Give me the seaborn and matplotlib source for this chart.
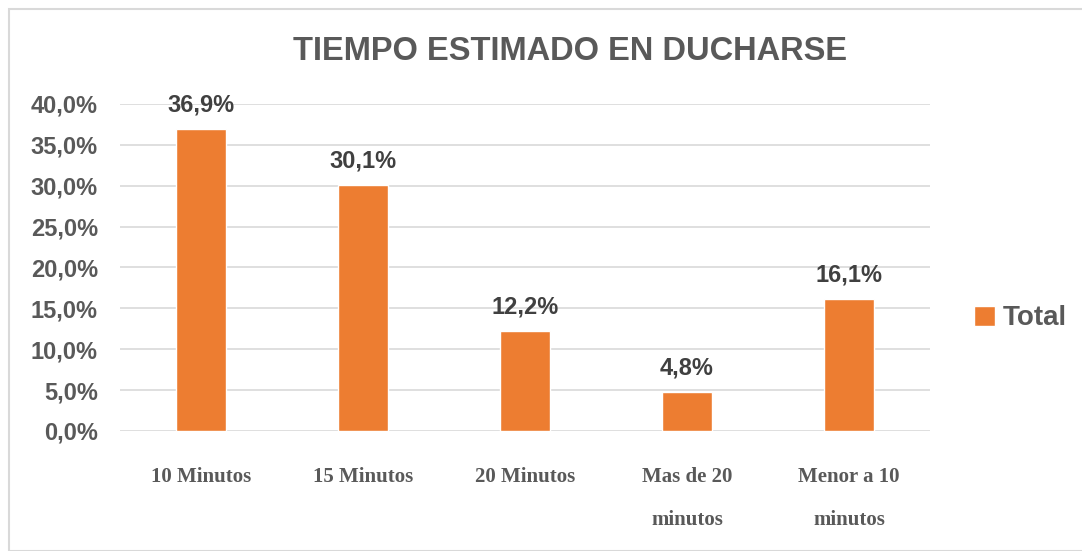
import pandas as pd
import seaborn as sns
import matplotlib.pyplot as plt
from matplotlib.patches import Rectangle
from matplotlib.ticker import FuncFormatter

# Datos del grafico
categorias = ['10 Minutos', '15 Minutos', '20 Minutos', 'Mas de 20\nminutos', 'Menor a 10\nminutos']
valores = [36.9, 30.1, 12.2, 4.8, 16.1]
serie = 'Total'

df = pd.DataFrame({'categoria': categorias, 'valor': valores})

sns.set_style('white')
plt.rcParams['font.family'] = ['Liberation Sans', 'DejaVu Sans']

fig = plt.figure(figsize=(10.82, 5.51), dpi=100)
ax = fig.add_axes([0.1109, 0.2178, 0.7486, 0.5935])

sns.barplot(data=df, x='categoria', y='valor', color='#ED7D31', width=0.31,
            saturation=1, label=serie, ax=ax, zorder=3)

ax.set_ylim(0, 40)
ax.set_yticks(range(0, 41, 5))
ax.yaxis.set_major_formatter(FuncFormatter(lambda v, p: f'{v:.1f}%'.replace('.', ',')))
ax.grid(axis='y', color='#d9d9d9', linewidth=1.2, zorder=0)
ax.set_axisbelow(True)
sns.despine(ax=ax, left=True, bottom=True, top=True, right=True)
ax.set_xlabel('')
ax.set_ylabel('')
ax.tick_params(axis='y', length=0, pad=16, labelsize=17, labelcolor='#595959')
ax.tick_params(axis='x', length=0, pad=26)
for lab in ax.get_yticklabels():
    lab.set_fontweight('bold')
for lab in ax.get_xticklabels():
    lab.set_family('Liberation Serif')
    lab.set_fontweight('bold')
    lab.set_fontsize(15)
    lab.set_color('#595959')
    lab.set_linespacing(2.5)
    lab.set_verticalalignment('top')

# Etiquetas de datos
for i, v in enumerate(valores):
    ax.annotate(f'{v:.1f}%'.replace('.', ','), (i, v), xytext=(0, 9),
                textcoords='offset points', ha='center', va='bottom',
                fontsize=17, fontweight='bold', color='#404040')

fig.text(0.527, 0.907, 'TIEMPO ESTIMADO EN DUCHARSE', ha='center', va='center',
         fontsize=23.5, fontweight='bold', color='#595959')

handles, labels = ax.get_legend_handles_labels()
fig.legend(handles, labels, loc='center left', bbox_to_anchor=(0.877, 0.422),
           frameon=False, handlelength=0.75, handleheight=0.75, handletextpad=0.3,
           prop={'size': 20, 'weight': 'bold'}, labelcolor='#595959')
if ax.get_legend():
    ax.get_legend().remove()

# Borde del area del grafico
fig.patches.append(Rectangle((9 / 1082, 0), 1.0, 1 - 9 / 551, transform=fig.transFigure,
                             fill=False, edgecolor='#d9d9d9', linewidth=1.5))

plt.savefig('out.png', dpi=100)
